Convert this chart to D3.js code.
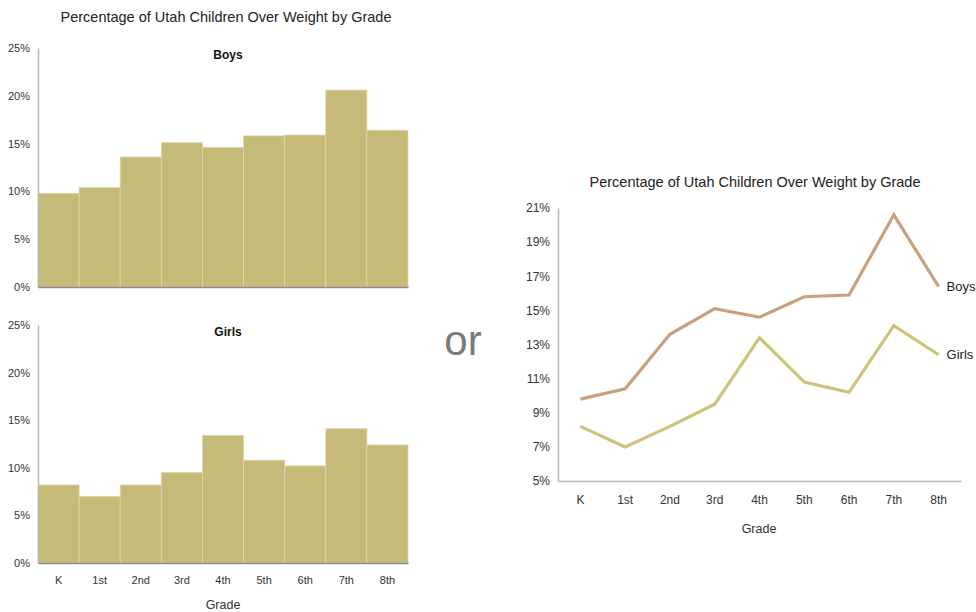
<!DOCTYPE html>
<html>
<head>
<meta charset="utf-8">
<script src="https://cdn.jsdelivr.net/npm/d3@7"></script>
<style>
  html, body { margin: 0; padding: 0; background: #fff; }
  svg { display: block; font-family: "Liberation Sans", Arial, sans-serif; }
</style>
</head>
<body>
<svg id="chart" width="976" height="612"></svg>
<script>
// Percentage of Utah children overweight, by grade
const grades = ["K", "1st", "2nd", "3rd", "4th", "5th", "6th", "7th", "8th"];
const boys   = [9.8, 10.4, 13.6, 15.1, 14.6, 15.8, 15.9, 20.6, 16.4];
const girls  = [8.2, 7.0, 8.2, 9.5, 13.4, 10.8, 10.2, 14.1, 12.4];
const barTicks  = [0, 5, 10, 15, 20, 25];
const lineTicks = [5, 7, 9, 11, 13, 15, 17, 19, 21];

const title = "Percentage of Utah Children Over Weight by Grade";
const barColor = "#c6ba79";
const boysColor = "#c8a07e";
const girlsColor = "#cdc27a";

const svg = d3.select("#chart");
const pct = d => d + "%";

// ---------- Left: small-multiple bar charts ----------
svg.append("text")
  .attr("x", 226).attr("y", 22)
  .attr("text-anchor", "middle")
  .attr("font-size", 14.5).attr("fill", "#222")
  .text(title);

const xBand = d3.scaleBand().domain(grades).range([38, 408]).padding(0);

function barPanel(values, y0, y25, label, showX) {
  const y = d3.scaleLinear().domain([0, 25]).range([y0, y25]);
  const g = svg.append("g");

  g.selectAll("rect").data(values).join("rect")
    .attr("x", (d, i) => xBand(grades[i]))
    .attr("width", xBand.bandwidth())
    .attr("y", d => y(d))
    .attr("height", d => y(0) - y(d))
    .attr("fill", barColor)
    .attr("stroke", "#ddd6ab").attr("stroke-width", 0.8);

  // y axis
  const ya = g.append("g").attr("transform", "translate(38,0)")
    .call(d3.axisLeft(y).tickValues(barTicks).tickFormat(pct).tickSize(0).tickPadding(8));
  ya.select(".domain").attr("stroke", "#b8b8b8").attr("stroke-width", 1.5);
  ya.selectAll("text").attr("font-size", 11).attr("fill", "#333")
    .attr("font-family", "'Liberation Sans', Arial, sans-serif");

  // baseline
  const xa = g.append("g").attr("transform", `translate(0,${y0})`)
    .call(d3.axisBottom(xBand).tickSize(0).tickPadding(13));
  xa.select(".domain").attr("stroke", "#8a8a8a").attr("stroke-width", 1.5);
  xa.selectAll("text").attr("font-size", 11).attr("fill", "#333")
    .attr("font-family", "'Liberation Sans', Arial, sans-serif")
    .attr("opacity", showX ? 1 : 0);

  g.append("text")
    .attr("x", 228).attr("y", y25 + 11)
    .attr("text-anchor", "middle")
    .attr("font-size", 12).attr("font-weight", "bold").attr("fill", "#111")
    .text(label);
}

barPanel(boys, 287, 48, "Boys", false);
barPanel(girls, 563, 325, "Girls", true);

svg.append("text")
  .attr("x", 223).attr("y", 609)
  .attr("text-anchor", "middle")
  .attr("font-size", 12.5).attr("fill", "#333")
  .text("Grade");

// ---------- Middle ----------
svg.append("text")
  .attr("x", 463).attr("y", 355)
  .attr("text-anchor", "middle")
  .attr("font-size", 42).attr("fill", "#7a7a7a")
  .text("or");

// ---------- Right: line chart ----------
svg.append("text")
  .attr("x", 755).attr("y", 187)
  .attr("text-anchor", "middle")
  .attr("font-size", 14.5).attr("fill", "#222")
  .text(title);

const xl = d3.scaleBand().domain(grades).range([558, 961]).padding(0);
const yl = d3.scaleLinear().domain([5, 21]).range([481, 208]);
const cx = g => xl(g) + xl.bandwidth() / 2;

const gl = svg.append("g");
const lya = gl.append("g").attr("transform", "translate(558,0)")
  .call(d3.axisLeft(yl).tickValues(lineTicks).tickFormat(pct).tickSize(0).tickPadding(8));
lya.select(".domain").attr("stroke", "#b8b8b8").attr("stroke-width", 1.5);
lya.selectAll("text").attr("font-size", 12).attr("fill", "#333")
  .attr("font-family", "'Liberation Sans', Arial, sans-serif");

const lxa = gl.append("g").attr("transform", "translate(0,481)")
  .call(d3.axisBottom(xl).tickSize(0).tickPadding(14));
lxa.select(".domain").attr("stroke", "#b8b8b8").attr("stroke-width", 1.5);
lxa.selectAll("text").attr("font-size", 12).attr("fill", "#333")
  .attr("font-family", "'Liberation Sans', Arial, sans-serif");

const line = d3.line().x((d, i) => cx(grades[i])).y(d => yl(d));

[[boys, boysColor, "Boys"], [girls, girlsColor, "Girls"]].forEach(([vals, col, name]) => {
  gl.append("path").datum(vals)
    .attr("d", line)
    .attr("fill", "none")
    .attr("stroke", col).attr("stroke-width", 3.2)
    .attr("stroke-linejoin", "miter");
  const last = vals[vals.length - 1];
  gl.append("text")
    .attr("x", cx(grades[grades.length - 1]) + 8)
    .attr("y", yl(last) + 1)
    .attr("dominant-baseline", "middle")
    .attr("font-size", 13).attr("fill", "#222")
    .text(name);
});

svg.append("text")
  .attr("x", 759).attr("y", 533)
  .attr("text-anchor", "middle")
  .attr("font-size", 12.5).attr("fill", "#333")
  .text("Grade");
</script>
</body>
</html>
